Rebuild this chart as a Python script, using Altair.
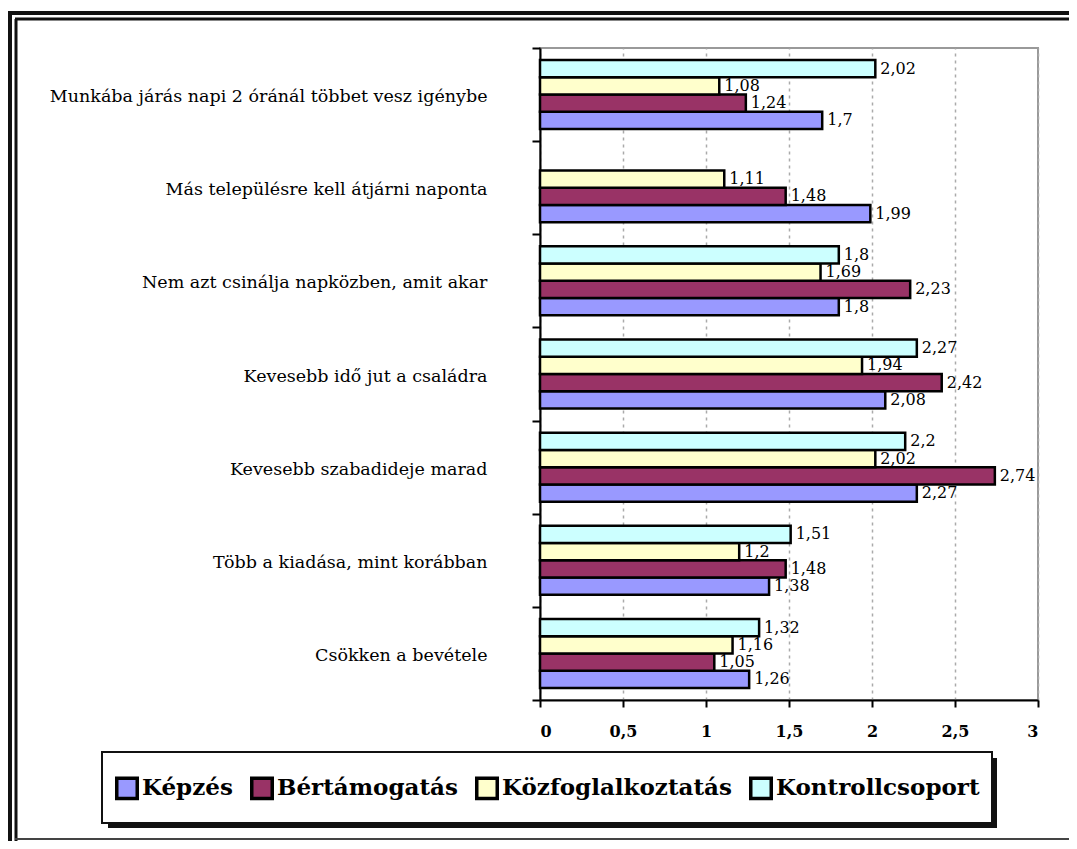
import altair as alt
import pandas as pd

categories = [
    "Munkába járás napi 2 óránál többet vesz igénybe",
    "Más településre kell átjárni naponta",
    "Nem azt csinálja napközben, amit akar",
    "Kevesebb idő jut a családra",
    "Kevesebb szabadideje marad",
    "Több a kiadása, mint korábban",
    "Csökken a bevétele",
]
series = ["Képzés", "Bértámogatás", "Közfoglalkoztatás", "Kontrollcsoport"]
kepzes = [1.7, 1.99, 1.8, 2.08, 2.27, 1.38, 1.26]
bertamogatas = [1.24, 1.48, 2.23, 2.42, 2.74, 1.48, 1.05]
kozfoglalkoztatas = [1.08, 1.11, 1.69, 1.94, 2.02, 1.2, 1.16]
kontrollcsoport = [2.02, None, 1.8, 2.27, 2.2, 1.51, 1.32]
colors = ["#9999FF", "#993366", "#FFFFCC", "#CCFFFF"]
x_ticks = [0, 0.5, 1, 1.5, 2, 2.5, 3]

rows = []
for s, vals in zip(series, [kepzes, bertamogatas, kozfoglalkoztatas, kontrollcsoport]):
    for c, v in zip(categories, vals):
        if v is None:
            continue
        rows.append({"kat": c, "csoport": s, "ertek": v,
                     "cimke": f"{v:g}".replace(".", ",")})
df = pd.DataFrame(rows)

FONT = "DejaVu Serif"
W, H = 498, 652

y_enc = alt.Y("kat:N", sort=categories, title=None,
              scale=alt.Scale(paddingInner=0, paddingOuter=0),
              axis=alt.Axis(tickBand="extent", labelFontSize=17.5, labelFont=FONT,
                            labelColor="black", labelPadding=45, tickSize=8,
                            tickWidth=2, tickColor="black", domainColor="black",
                            domainWidth=2, labelLimit=600, labelOffset=2))
yoff = alt.YOffset("csoport:N", sort=list(reversed(series)),
                   scale=alt.Scale(paddingInner=0, paddingOuter=0.7))
x_enc = alt.X("ertek:Q", title=None,
              scale=alt.Scale(domain=[0, 3], nice=False),
              axis=alt.Axis(values=x_ticks,
                            labelExpr="replace(format(datum.value, '~g'), '.', ',')",
                            labelFont=FONT, labelFontSize=16, labelFontWeight="bold",
                            labelColor="black", labelPadding=16, tickSize=7, tickWidth=2,
                            tickColor="black", domainColor="black", domainWidth=2,
                            grid=True, gridDash=[3, 4], gridColor="#aaaaaa",
                            gridWidth=1.5))

bars = alt.Chart(df).mark_bar(stroke="black", strokeWidth=2.5).encode(
    y=y_enc, yOffset=yoff, x=x_enc,
    color=alt.Color("csoport:N", scale=alt.Scale(domain=series, range=colors),
                    legend=alt.Legend(title=None, orient="none", legendX=-425,
                                      legendY=728, direction="horizontal",
                                      columns=4, columnPadding=11, labelOffset=3,
                                      labelFont=FONT, labelFontSize=23,
                                      labelFontWeight="bold", labelColor="black",
                                      symbolType="square", symbolSize=420,
                                      symbolStrokeColor="black",
                                      symbolStrokeWidth=3.5, labelLimit=400,
                                      padding=0)),
)

labels = alt.Chart(df).mark_text(align="left", baseline="middle", dx=5,
                                 font=FONT, fontSize=16, color="black").encode(
    y=alt.Y("kat:N", sort=categories), yOffset=yoff, x="ertek:Q", text="cimke:N"
)

one = pd.DataFrame({"a": [0]})
frame_top1 = alt.Chart(one).mark_rule(color="#111", strokeWidth=4).encode(
    x=alt.value(-532), x2=alt.value(529), y=alt.value(-35))
frame_top2 = alt.Chart(one).mark_rule(color="#111", strokeWidth=3).encode(
    x=alt.value(-525), x2=alt.value(529), y=alt.value(-29))
frame_left1 = alt.Chart(one).mark_rule(color="#111", strokeWidth=4).encode(
    x=alt.value(-530), y=alt.value(-37), y2=alt.value(793))
frame_left2 = alt.Chart(one).mark_rule(color="#111", strokeWidth=3).encode(
    x=alt.value(-524), y=alt.value(-29), y2=alt.value(793))
frame_bottom = alt.Chart(one).mark_rule(color="#444", strokeWidth=2).encode(
    x=alt.value(-525), x2=alt.value(529), y=alt.value(791))
leg_shadow = alt.Chart(one).mark_rect(color="#111").encode(
    x=alt.value(-432), x2=alt.value(457), y=alt.value(710), y2=alt.value(780))
leg_box = alt.Chart(one).mark_rect(fill="white", stroke="#111", strokeWidth=2).encode(
    x=alt.value(-438), x2=alt.value(452), y=alt.value(704), y2=alt.value(775))

chart = alt.layer(
    frame_top1, frame_top2, frame_left1, frame_left2, frame_bottom,
    leg_shadow, leg_box, bars, labels
).properties(
    width=W, height=H,
    autosize=alt.AutoSizeParams(type="none"),
    padding={"left": 532, "top": 40, "right": 31, "bottom": 141},
    background="white",
).configure_view(stroke="#999999", strokeWidth=2)

chart.save("out.html", embed_options={"renderer": "svg", "actions": False})
